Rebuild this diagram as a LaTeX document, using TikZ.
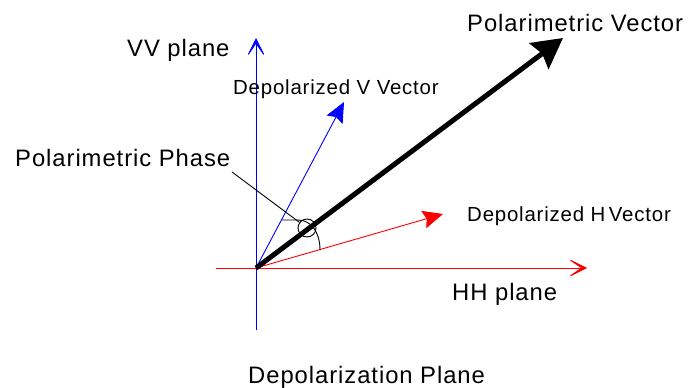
\documentclass[tikz,border=0pt]{standalone}
\usepackage{fontspec}
\setmainfont{Liberation Sans}[LetterSpace=4]
\usetikzlibrary{arrows.meta, positioning, calc}

\tikzset{
    biglabel/.style={font=\fontsize{23.8}{27}\selectfont, inner sep=0pt, anchor=base west},
    smalllabel/.style={font=\fontsize{20.4}{24}\selectfont, inner sep=0pt, anchor=base west},
    axistip/.style={-{Stealth[length=22pt, width=22pt, inset=16pt]}},
    vectip/.style={-{Stealth[length=20pt, width=18pt, inset=3pt]}}
}

\begin{document}
\begin{tikzpicture}[x=1pt, y=-1pt]
    \useasboundingbox (0,0) rectangle (691,388);

    % Origin and vector tips
    \coordinate (O) at (256,268);
    \coordinate (vvtip) at (256,38);
    \coordinate (vvfoot) at (256,330);
    \coordinate (hhtip) at (587,268);
    \coordinate (hhfoot) at (216,268);
    \coordinate (vtip) at (344,102);
    \coordinate (htip) at (443,214);
    \coordinate (ptip) at (563,38);

    % Axes
    \draw[blue, line width=0.9pt, axistip] (vvfoot) -- (vvtip);
    \draw[red, line width=0.9pt, axistip] (hhfoot) -- (hhtip);

    % Depolarized vectors
    \draw[blue, line width=0.9pt, vectip] (O) -- (vtip);
    \draw[red, line width=0.9pt, vectip] (O) -- (htip);

    % Polarimetric vector
    \draw[line width=5pt, -{Stealth[length=30pt, width=32pt, inset=4pt]}] (O) -- (ptip);

    % Phase angle
    \node[draw, circle, line width=0.9pt, minimum size=18pt, inner sep=0pt] (phase) at (307,228) {};
    \draw[line width=0.9pt] (282,220) -- (298,220) .. controls (311,220) and (320,232) .. (320,250);

    % Labels
    \node[biglabel] (vvlbl) at (127,56.5) {VV plane};
    \node[biglabel] (hhlbl) at (452,300) {HH plane};
    \node[biglabel] (plbl) at (467,31) {Polarimetric Vector};
    \node[biglabel] (phaselbl) at (15,166.5) {Polarimetric Phase};
    \node[biglabel] (planelbl) at (248,383) {Depolarization Plane};
    \node[smalllabel] (vlbl) at (233,94) {Depolarized V Vector};
    \node[smalllabel] (hlbl) at (467,221) {Depolarized H\hspace{-3pt} Vector};

    % Leader line
    \coordinate (leader) at (232,172);
    \draw[line width=0.9pt] (leader) -- (phase);
\end{tikzpicture}
\end{document}
